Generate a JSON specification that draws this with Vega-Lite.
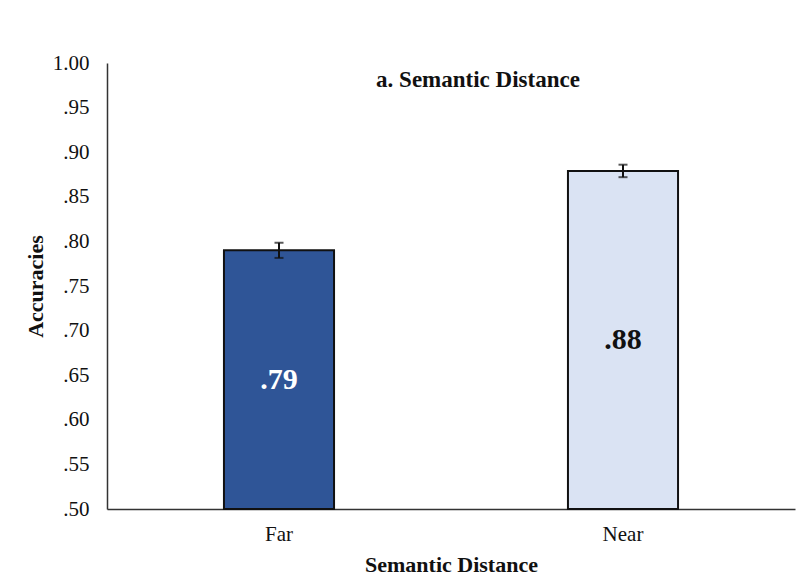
{
  "$schema": "https://vega.github.io/schema/vega-lite/v6.json",
  "width": 688,
  "height": 446,
  "autosize": {"type": "none"},
  "padding": {"left": 107, "top": 63, "right": 1, "bottom": 76},
  "background": "white",
  "config": {
    "view": {"stroke": null},
    "font": "Liberation Serif",
    "axis": {"labelFont": "Liberation Serif", "titleFont": "Liberation Serif", "labelColor": "#111", "titleColor": "#111", "grid": false, "domainColor": "#333", "domainWidth": 1.5}
  },
  "title": {"text": "a. Semantic Distance", "font": "Liberation Serif", "fontSize": 23, "fontWeight": "bold", "color": "#111", "anchor": "middle", "offset": -40, "dx": 27},
  "data": {
    "values": [
      {"distance": "Far", "accuracy": 0.79, "se": 0.0085, "label": ".79"},
      {"distance": "Near", "accuracy": 0.879, "se": 0.007, "label": ".88"}
    ]
  },
  "transform": [
    {"calculate": "datum.accuracy - datum.se", "as": "lo"},
    {"calculate": "datum.accuracy + datum.se", "as": "hi"},
    {"calculate": "(datum.accuracy + 0.5) / 2", "as": "mid"}
  ],
  "encoding": {
    "x": {
      "field": "distance", "type": "nominal",
      "scale": {"paddingInner": 0, "paddingOuter": 0},
      "axis": {"title": "Semantic Distance", "labelAngle": 0, "labelFontSize": 21, "titleFontSize": 22, "titleFontWeight": "bold", "ticks": false, "labelPadding": 14, "titlePadding": 10}
    }
  },
  "layer": [
    {
      "mark": {"type": "bar", "width": {"band": 0.32}, "stroke": "#111", "strokeWidth": 2},
      "encoding": {
        "y": {
          "field": "accuracy", "type": "quantitative",
          "scale": {"domain": [0.5, 1.0], "zero": false, "nice": false},
          "axis": {"title": "Accuracies", "values": [0.5, 0.55, 0.6, 0.65, 0.7, 0.75, 0.8, 0.85, 0.9, 0.95, 1.0], "labelExpr": "replace(format(datum.value, '.2f'), '0.', '.')", "labelFontSize": 21, "titleFontSize": 22, "titleFontWeight": "bold", "ticks": false, "labelPadding": 18, "titlePadding": 5}
        },
        "y2": {"datum": 0.5},
        "color": {"field": "distance", "type": "nominal", "scale": {"domain": ["Far", "Near"], "range": ["#2F5597", "#DAE3F3"]}, "legend": null}
      }
    },
    {
      "mark": {"type": "rule", "color": "#111", "strokeWidth": 2},
      "encoding": {"y": {"field": "lo", "type": "quantitative"}, "y2": {"field": "hi"}}
    },
    {
      "mark": {"type": "tick", "color": "#111", "thickness": 2, "size": 9, "orient": "horizontal"},
      "encoding": {"y": {"field": "lo", "type": "quantitative"}}
    },
    {
      "mark": {"type": "tick", "color": "#111", "thickness": 2, "size": 9, "orient": "horizontal"},
      "encoding": {"y": {"field": "hi", "type": "quantitative"}}
    },
    {
      "mark": {"type": "text", "fontSize": 30, "fontWeight": "bold", "font": "Liberation Serif", "baseline": "middle"},
      "encoding": {
        "y": {"field": "mid", "type": "quantitative"},
        "text": {"field": "label"},
        "color": {"field": "distance", "type": "nominal", "scale": {"domain": ["Far", "Near"], "range": ["#ffffff", "#111111"]}, "legend": null}
      }
    }
  ],
  "resolve": {"scale": {"color": "independent"}}
}
